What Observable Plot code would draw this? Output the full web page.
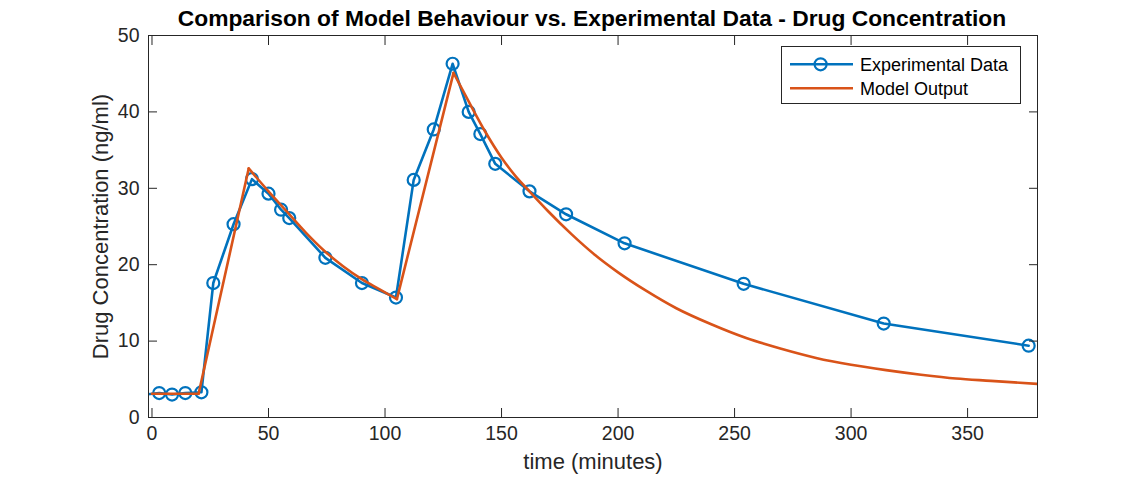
<!DOCTYPE html>
<html><head><meta charset="utf-8">
<script src="https://cdn.jsdelivr.net/npm/d3@7"></script>
<script src="https://cdn.jsdelivr.net/npm/@observablehq/plot@0.6"></script>
<style>
body{margin:0;background:#fff;font-family:"Liberation Sans",Arial,sans-serif;}
#title{position:relative;height:28px;width:1146px;}
#title span{position:absolute;left:592px;top:4.5px;transform:translateX(-50%);white-space:nowrap;font-weight:bold;font-size:22.8px;line-height:26px;color:#000;}
</style></head><body>
<div id="title"><span id="ttl"></span></div>
<div id="chart"></div>
<script>
const expTime = [-3, 3.1, 8.6, 14.3, 21.2, 26.3, 35.0, 42.9, 50.0, 55.4, 58.9, 74.4, 90.1, 104.7, 112.3, 120.9, 129.0, 135.9, 140.9, 147.3, 162.0, 177.7, 202.8, 253.9, 314.0, 376.2];
const expConc = [3.0, 3.2, 3.0, 3.2, 3.3, 17.6, 25.3, 31.2, 29.3, 27.2, 26.1, 20.9, 17.6, 15.7, 31.1, 37.7, 46.3, 40.0, 37.1, 33.2, 29.6, 26.6, 22.8, 17.5, 12.3, 9.4];
const modelTime = [0, 20, 41.5, 50, 58, 66, 74, 82, 90, 97.5, 105.1, 129.4, 136, 143, 150, 156, 162, 170, 180, 190, 200, 212, 225, 240, 255, 270, 285, 300, 315, 330, 345, 360, 380];
const modelConc = [3.1, 3.1, 32.6, 29.6, 26.9, 24.2, 21.8, 19.8, 18.1, 16.8, 15.5, 45.1, 41.3, 37.4, 34.0, 31.6, 29.6, 27.0, 24.0, 21.3, 19.0, 16.6, 14.3, 12.2, 10.4, 9.0, 7.8, 6.9, 6.2, 5.6, 5.1, 4.8, 4.4];
// times where the model curve has a corner (dose start / peak / dose start / peak)
const modelKinks = [20, 41.5, 105.1, 129.4];
const xTicks = [0, 50, 100, 150, 200, 250, 300, 350];
const yTicks = [0, 10, 20, 30, 40, 50];
const xDomain = [-1.5, 380];
const yDomain = [0, 50];
const titleText = "Comparison of Model Behaviour vs. Experimental Data - Drug Concentration";
const xLabel = "time (minutes)";
const yLabel = "Drug Concentration (ng/ml)";
const seriesNames = ["Experimental Data", "Model Output"];
const colors = ["#0072BD", "#D95319"];

document.getElementById("ttl").textContent = titleText;

const expData = expTime.map((t, i) => ({t, c: expConc[i]}));
const modelData = modelTime.map((t, i) => ({t, c: modelConc[i]}));
const inRange = (a, b) => modelData.filter(d => d.t >= a && d.t <= b);
const bounds = [modelTime[0], ...modelKinks, modelTime[modelTime.length - 1]];
// segments: flat, rise, decay, rise, decay
const segs = bounds.slice(0, -1).map((a, i) => ({data: inRange(a, bounds[i + 1]), smooth: i === 2 || i === 4}));
const axisColor = "#262626";
const font = '"Liberation Sans", Arial, sans-serif';

const chart = Plot.plot({
  width: 1146,
  height: 451,
  marginTop: 7,
  marginBottom: 62,
  marginLeft: 148,
  marginRight: 109,
  style: {fontFamily: font, background: "#fff", overflow: "visible"},
  x: {domain: xDomain},
  y: {domain: yDomain},
  marks: [
    Plot.line(expData, {x: "t", y: "c", stroke: colors[0], strokeWidth: 2.6, clip: true}),
    Plot.dot(expData.filter(d => d.t >= xDomain[0]), {x: "t", y: "c", r: 6, stroke: colors[0], strokeWidth: 2.2, fill: "none"}),
    ...segs.map(s => Plot.line(s.data, {x: "t", y: "c", stroke: colors[1], strokeWidth: 2.6, clip: true, curve: s.smooth ? "monotone-x" : "linear"})),
    Plot.axisX({anchor: "bottom", ticks: xTicks, tickSize: -9, tickFormat: () => "", stroke: axisColor, label: null}),
    Plot.axisX({anchor: "top", ticks: xTicks, tickSize: -9, tickFormat: () => "", stroke: axisColor, label: null}),
    Plot.axisY({anchor: "left", ticks: yTicks, tickSize: -9, tickFormat: () => "", stroke: axisColor, label: null}),
    Plot.axisY({anchor: "right", ticks: yTicks, tickSize: -9, tickFormat: () => "", stroke: axisColor, label: null}),
    Plot.axisX({anchor: "bottom", ticks: xTicks, tickSize: 0, tickPadding: 9, fontSize: 19.5, fill: axisColor, label: null}),
    Plot.axisY({anchor: "left", ticks: yTicks, tickSize: 0, tickPadding: 9, fontSize: 19.5, fill: axisColor, label: null}),
    Plot.text([xLabel], {frameAnchor: "bottom", dy: 51, fontSize: 22, fill: axisColor, text: d => d, textAnchor: "middle"}),
    Plot.text([yLabel], {frameAnchor: "left", dx: -48, rotate: -90, fontSize: 22, fill: axisColor, text: d => d, textAnchor: "middle"}),
    Plot.frame({stroke: axisColor, strokeWidth: 1})
  ]
});
document.getElementById("chart").appendChild(chart);

// legend inside the axes (upper right)
const svg = d3.select(chart);
const lg = svg.append("g").attr("font-family", font).attr("text-anchor", "start");
lg.append("rect").attr("x", 781.5).attr("y", 18.5).attr("width", 239).attr("height", 57)
  .attr("fill", "#fff").attr("stroke", axisColor).attr("stroke-width", 1);
const rows = [{y: 36.3, i: 0, marker: true}, {y: 60.3, i: 1, marker: false}];
rows.forEach(r => {
  lg.append("line").attr("x1", 790).attr("x2", 853).attr("y1", r.y).attr("y2", r.y)
    .attr("stroke", colors[r.i]).attr("stroke-width", 2.6);
  if (r.marker) lg.append("circle").attr("cx", 820.6).attr("cy", r.y).attr("r", 6)
    .attr("fill", "none").attr("stroke", colors[r.i]).attr("stroke-width", 2.2);
  lg.append("text").attr("x", 860).attr("y", r.y).attr("dy", "0.36em")
    .attr("font-size", 18).attr("fill", "#000").attr("text-anchor", "start").text(seriesNames[r.i]);
});
</script>
</body></html>
